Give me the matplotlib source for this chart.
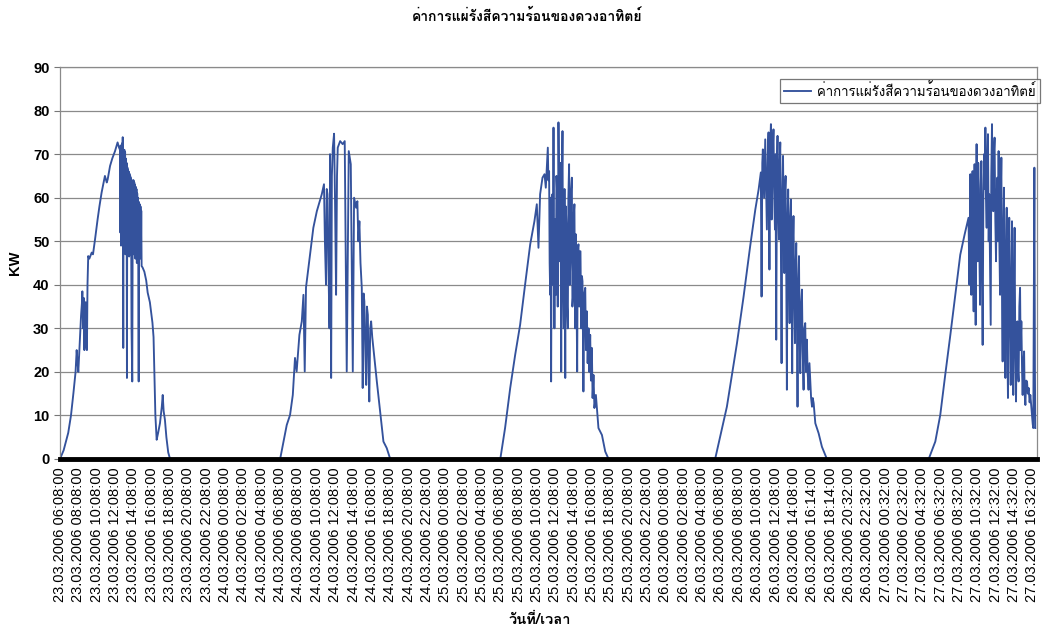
import numpy as np
import matplotlib
matplotlib.use('Agg')
import matplotlib.pyplot as plt
from matplotlib import font_manager, ft2font

# time labels shown on the category axis
tick_labels = [
    '23.03.2006 06:08:00', '23.03.2006 08:08:00', '23.03.2006 10:08:00', '23.03.2006 12:08:00',
    '23.03.2006 14:08:00', '23.03.2006 16:08:00', '23.03.2006 18:08:00', '23.03.2006 20:08:00',
    '23.03.2006 22:08:00',
    '24.03.2006 00:08:00', '24.03.2006 02:08:00', '24.03.2006 04:08:00', '24.03.2006 06:08:00',
    '24.03.2006 08:08:00', '24.03.2006 10:08:00', '24.03.2006 12:08:00', '24.03.2006 14:08:00',
    '24.03.2006 16:08:00', '24.03.2006 18:08:00', '24.03.2006 20:08:00', '24.03.2006 22:08:00',
    '25.03.2006 00:08:00', '25.03.2006 02:08:00', '25.03.2006 04:08:00', '25.03.2006 06:08:00',
    '25.03.2006 08:08:00', '25.03.2006 10:08:00', '25.03.2006 12:08:00', '25.03.2006 14:08:00',
    '25.03.2006 16:08:00', '25.03.2006 18:08:00', '25.03.2006 20:08:00', '25.03.2006 22:08:00',
    '26.03.2006 00:08:00', '26.03.2006 02:08:00', '26.03.2006 04:08:00', '26.03.2006 06:08:00',
    '26.03.2006 08:08:00', '26.03.2006 10:08:00', '26.03.2006 12:08:00', '26.03.2006 14:08:00',
    '26.03.2006 16:14:00', '26.03.2006 18:14:00', '26.03.2006 20:32:00', '26.03.2006 22:32:00',
    '27.03.2006 00:32:00', '27.03.2006 02:32:00', '27.03.2006 04:32:00', '27.03.2006 06:32:00',
    '27.03.2006 08:32:00', '27.03.2006 10:32:00', '27.03.2006 12:32:00', '27.03.2006 14:32:00',
    '27.03.2006 16:32:00',
]

# positions are in tick-label units (one unit = 2 h of samples)
day1_x = [0.0, 0.2, 0.45, 0.6, 0.73, 0.85, 0.91, 0.96, 1.0, 1.08, 1.15, 1.2, 1.22, 1.26, 1.29, 1.33,
          1.36, 1.4, 1.43, 1.47, 1.5, 1.54, 1.6, 1.73, 1.8, 1.91, 2.05, 2.15, 2.27, 2.4, 2.45, 2.55,
          2.6, 2.73, 2.85, 3.0, 3.14, 3.22,
          3.27, 3.29, 3.31, 3.33, 3.35, 3.37, 3.39, 3.41, 3.42, 3.44, 3.45, 3.47, 3.49, 3.51, 3.53,
          3.55, 3.57, 3.59, 3.61, 3.63, 3.65, 3.67, 3.69, 3.71, 3.73, 3.75, 3.77, 3.79, 3.81, 3.83,
          3.85, 3.87, 3.9, 3.94, 3.97, 3.99, 4.01, 4.03, 4.05, 4.07, 4.09, 4.11, 4.13, 4.15, 4.17,
          4.19, 4.21, 4.23, 4.25, 4.27, 4.29, 4.31, 4.33, 4.35, 4.37, 4.39, 4.41, 4.43, 4.45,
          4.5, 4.6, 4.7, 4.78, 4.9, 5.04, 5.1, 5.2, 5.27, 5.35, 5.45, 5.55, 5.6, 5.65, 5.72, 5.8,
          5.9, 6.0]
day1_kw = [0, 2, 6, 10, 15, 20, 25, 22, 20, 27, 33, 36, 38.5, 30, 37, 25,
           35, 36, 26, 25, 40, 46.6, 46, 47.4, 47, 50.4, 55, 58, 61.2, 64, 65, 63.5,
           64.2, 67.3, 69, 70.7, 72.7, 71.5,
           71, 52, 72, 49, 71.5, 55, 72.5, 50, 73.9, 47, 25.5, 70, 48, 71, 52,
           70.5, 47, 69, 50, 68, 18.6, 67, 47, 66.5, 49, 66, 46.5, 65.5, 48, 65,
           47, 64.5, 30, 17.8, 64, 48, 64, 47, 63.5, 49, 63, 46, 62.5, 48, 62,
           45, 61, 47, 60, 45, 17.8, 59, 48, 58.5, 50, 58, 46, 57, 44.3,
           44, 43, 41, 38.2, 36, 31.3, 28, 10, 4.4, 6, 8.2, 12, 14.7, 11, 9, 5,
           1.5, 0]

day2_x = [12.0, 12.36, 12.54, 12.69, 12.81, 12.9, 13.05, 13.18, 13.27, 13.34, 13.41, 13.63, 13.81,
          14.0, 14.27, 14.39, 14.44, 14.5, 14.54, 14.58, 14.63, 14.69, 14.72, 14.75, 14.78, 14.82,
          14.87, 14.94, 14.99, 15.05, 15.1, 15.14, 15.27, 15.41, 15.52, 15.63, 15.74, 15.85, 15.96,
          16.03, 16.14, 16.21, 16.26, 16.32, 16.38, 16.45, 16.5, 16.55, 16.59, 16.64, 16.69, 16.73,
          16.78, 16.82, 16.86, 16.91, 16.96, 17.02, 17.08, 17.27, 17.45, 17.63, 17.81, 18.0]
day2_kw = [0, 7.8, 10.1, 14.7, 23.2, 20.1, 28.5, 31.6, 37.7, 20.1, 39.4, 46.9, 53.1,
           56.9, 60.8, 63.1, 50, 40, 62, 60.8, 45, 30, 70, 50, 18.6, 65,
           71.5, 74.7, 60, 37.7, 65, 71.5, 73, 72.3, 73, 20.1, 70.7, 67.7, 20.1,
           60, 57.7, 59.2, 50, 54.6, 45, 39.3, 16.3, 38, 36.2, 25, 17, 35,
           33.1, 20, 13.2, 30, 31.6, 28, 25.5, 17.8, 10.9, 4, 2.5, 0]

day3_x = [24.0, 24.26, 24.54, 24.81, 25.08, 25.35, 25.63, 25.86, 25.99, 26.08, 26.17, 26.3, 26.41,
          26.48, 26.59, 26.62, 26.66, 26.69, 26.72, 26.74, 26.77, 26.8, 26.84, 26.87, 26.9, 26.92,
          26.95, 26.99, 27.03, 27.06, 27.1, 27.13, 27.17, 27.21, 27.25, 27.28, 27.32, 27.35, 27.39,
          27.42, 27.46, 27.5, 27.54, 27.57, 27.61, 27.64, 27.68, 27.71, 27.75, 27.78, 27.82, 27.86,
          27.9, 27.93, 27.97, 28.0, 28.04, 28.08, 28.12, 28.15, 28.19, 28.22, 28.26, 28.3, 28.34,
          28.37, 28.41, 28.45, 28.48, 28.53, 28.58, 28.63, 28.67, 28.72, 28.76, 28.81, 28.85, 28.9,
          28.94, 28.99, 29.03, 29.08, 29.13, 29.21, 29.35, 29.54, 29.72, 29.9]
day3_kw = [0, 7.1, 16.3, 23.9, 30.8, 40, 49.3, 54.6, 58.5, 48.5, 60.8, 64.6, 65.4,
           62.3, 71.5, 64, 66.1, 45, 37.7, 60, 17.8, 55, 60.8, 40, 76.1, 50,
           30, 55, 37.7, 65, 60.8, 35, 77.3, 60, 45.4, 68, 20.1, 60, 75.3,
           40, 30, 62, 18.6, 58, 53.1, 35, 30, 60, 67.7, 40, 45.4, 62,
           64.6, 35, 37.7, 56, 58.5, 30, 51.6, 40, 20.1, 48, 49.3, 35, 47.7,
           47.7, 30, 42, 40.8, 15.5, 38, 39.3, 25, 33.9, 22, 30, 20, 28.5,
           18, 25.5, 14, 19.3, 11.7, 14.7, 7.1, 5.5, 1.7, 0]

day4_x = [35.71, 36.35, 36.9, 37.26, 37.62, 37.9, 38.08, 38.2, 38.24, 38.28, 38.31, 38.38, 38.44,
          38.49, 38.53, 38.58, 38.62, 38.67, 38.71, 38.75, 38.79, 38.82, 38.86, 38.89, 38.93, 38.97,
          39.0, 39.04, 39.08, 39.11, 39.15, 39.19, 39.22, 39.26, 39.3, 39.33, 39.37, 39.41, 39.45,
          39.48, 39.52, 39.55, 39.59, 39.62, 39.66, 39.69, 39.73, 39.77, 39.8, 39.84, 39.88, 39.91,
          39.95, 39.98, 40.02, 40.06, 40.1, 40.13, 40.17, 40.2, 40.24, 40.28, 40.31, 40.35, 40.4,
          40.44, 40.48, 40.53, 40.57, 40.62, 40.66, 40.71, 40.75, 40.8, 40.85, 40.89, 40.94, 40.99,
          41.03, 41.08, 41.17, 41.35, 41.53, 41.71, 41.8]
day4_kw = [0, 12, 26.6, 37.3, 48.9, 57.3, 61.9, 65.8, 37.3, 68, 71.1, 60, 73.4,
           62, 52.7, 70, 75, 43.5, 72, 76.9, 55, 61.9, 72, 75.7, 60, 52.7,
           70, 27.4, 68, 74.2, 58, 50.4, 68, 72.7, 45, 22, 60, 69.6, 50,
           42.7, 62, 65, 40, 15.9, 55, 61.9, 45, 31.2, 55, 59.6, 40, 19.7,
           50, 55.8, 38, 26.6, 45, 49.6, 30, 12, 40, 46.6, 30, 19.7, 36,
           38.9, 25, 15.9, 30, 31.2, 20, 27.4, 20, 15.9, 22, 18.2, 14, 12,
           14, 12.8, 8.2, 5.9, 2.8, 0.9, 0]

day5_x = [47.35, 47.71, 47.98, 48.25, 48.53, 48.8, 49.07, 49.31, 49.52, 49.57, 49.62, 49.67, 49.7,
          49.74, 49.77, 49.8, 49.83, 49.85, 49.88, 49.91, 49.94, 49.96, 49.99, 50.02, 50.05, 50.07,
          50.11, 50.15, 50.18, 50.22, 50.25, 50.29, 50.33, 50.37, 50.4, 50.44, 50.47, 50.51, 50.55,
          50.58, 50.62, 50.65, 50.69, 50.73, 50.76, 50.8, 50.83, 50.87, 50.9, 50.94, 50.98, 51.02,
          51.05, 51.09, 51.12, 51.16, 51.2, 51.24, 51.27, 51.31, 51.34, 51.38, 51.41, 51.45, 51.49,
          51.53, 51.56, 51.6, 51.63, 51.67, 51.7, 51.74, 51.78, 51.82, 51.85, 51.89, 51.92, 51.96,
          52.0, 52.03, 52.07, 52.11, 52.14, 52.18, 52.22, 52.25, 52.29, 52.33, 52.36, 52.4, 52.44,
          52.47, 52.51, 52.55, 52.58, 52.62, 52.66, 52.71, 52.75, 52.8, 52.85, 52.89, 52.94, 52.98,
          53.02, 53.05, 53.08, 53.11, 53.14, 53.16]
day5_kw = [0, 4, 10.1, 19.3, 28.5, 37.7, 46.9, 51.6, 55.4, 40, 65.4, 37.7, 60,
           66.1, 45, 33.9, 58, 67.7, 50, 30.8, 62, 72.3, 55, 45.4, 68, 63.1,
           48, 35.4, 62, 68.4, 45, 26.2, 60, 70, 62, 76.1, 60, 53.1, 70,
           74.6, 50, 60.8, 45, 30.8, 65, 76.9, 62, 56.9, 70, 73.8, 55, 45.4,
           60, 64.6, 50, 70.7, 50, 37.7, 58, 69.2, 40, 22.4, 50, 62.3, 35,
           18.6, 45, 57.7, 30, 14, 45, 55.4, 30, 17, 40, 54.6, 25, 14.7,
           40, 53.1, 25, 13.2, 28, 31.6, 20, 17.8, 35, 39.3, 25, 31.6, 20,
           14.7, 22, 24.7, 15, 12.4, 18, 17.8, 15, 16.3, 13, 14.7, 12, 10.1,
           8, 7.1, 40, 66.9, 20, 7.1]

series_name = 'ค่าการแผ่รังสีความร้อนของดวงอาทิตย์'
title = 'ค่าการแผ่รังสีความร้อนของดวงอาทิตย์'
xlabel = 'วันที่/เวลา'
ylabel = 'KW'

# find any installed font that has Thai glyphs
thai_font = 'DejaVu Sans'
for f in font_manager.fontManager.ttflist:
    try:
        if 0x0E04 in ft2font.FT2Font(f.fname).get_charmap():
            thai_font = f.name
            break
    except Exception:
        pass
plt.rcParams['font.family'] = [thai_font, 'Liberation Sans', 'DejaVu Sans']

x = np.concatenate([day1_x, day2_x, day3_x, day4_x, day5_x])
kw = np.concatenate([day1_kw, day2_kw, day3_kw, day4_kw, day5_kw])

fig = plt.figure(figsize=(10.43, 6.27), dpi=100)
ax = fig.add_axes([0.0575, 0.268, 0.9367, 0.625])

ax.plot(x, kw, color='#34529c', lw=1.35, label=series_name)

ax.set_xlim(0, 53.25)
ax.set_ylim(0, 90)
ax.set_yticks(range(0, 91, 10))
ax.set_xticks(range(len(tick_labels)))
ax.set_xticklabels(tick_labels, rotation=90, fontsize=10.5, family='Liberation Sans')
ax.tick_params(axis='x', length=0, pad=6)
ax.tick_params(axis='y', length=4, labelsize=10.5, color='#777777')
for lab in ax.get_yticklabels():
    lab.set_family('Liberation Sans')
    lab.set_fontweight('bold')

ax.grid(axis='y', color='#8a8a8a', lw=0.9)
ax.set_axisbelow(True)
for s in ['left', 'top', 'right']:
    ax.spines[s].set_color('#8a8a8a')
    ax.spines[s].set_linewidth(0.9)
ax.spines['bottom'].set_color('black')
ax.spines['bottom'].set_linewidth(3.5)

ax.set_ylabel(ylabel, fontsize=10.5, fontweight='bold', family='Liberation Sans', labelpad=8)
fig.text(0.505, 0.973, title, ha='center', va='center', fontsize=10, fontweight='bold')
fig.text(0.518, 0.011, xlabel, ha='center', va='center', fontsize=10.5, fontweight='bold')

leg = ax.legend(loc='upper right', bbox_to_anchor=(1040 / 1043, 1 - 79 / 627),
                bbox_transform=fig.transFigure, fancybox=False, frameon=True,
                fontsize=9.5, handlelength=2.0, handletextpad=0.5, borderpad=0.3,
                borderaxespad=0)
leg.get_frame().set_edgecolor('#555555')
leg.get_frame().set_linewidth(0.9)

fig.savefig('out.png', dpi=100)
